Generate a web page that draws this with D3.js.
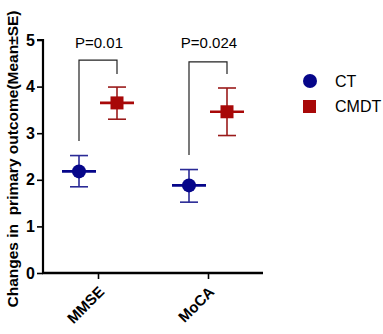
<!DOCTYPE html>
<html><head><meta charset="utf-8">
<script src="https://cdn.jsdelivr.net/npm/d3@7"></script>
<style>body{margin:0;background:#fff}svg{display:block}</style>
</head><body>
<script>
const categories = ["MMSE", "MoCA"];
const groups = ["CT", "CMDT"];
const ctMean = [2.18, 1.88];
const ctLow = [1.85, 1.52];
const ctHigh = [2.52, 2.22];
const cmdtMean = [3.65, 3.46];
const cmdtLow = [3.30, 2.95];
const cmdtHigh = [3.99, 3.97];
const pLabels = ["P=0.01", "P=0.024"];
const bracketLeft = [2.83, 2.53];
const bracketTop = [4.57, 4.53];
const bracketRight = [4.27, 4.27];
const yTicks = [0, 1, 2, 3, 4, 5];

const W = 383, H = 334;
const FONT = "'Liberation Sans', Arial, sans-serif";
const svg = d3.select("body").append("svg").attr("width", W).attr("height", H);

const y = d3.scaleLinear().domain([0, 5]).range([273, 40]);
const x = d3.scalePoint().domain(categories).range([43, 263]).padding(0.5);
const off = d3.scalePoint().domain(groups).range([-19, 19]);

const colors = {CT: "#06068a", CMDT: "#a80808"};
const barColors = {CT: "#2a2a96", CMDT: "#9a1a1a"};

// y axis
const yAxis = svg.append("g").attr("transform", "translate(43,0)")
  .call(d3.axisLeft(y).tickValues(yTicks).tickSize(6).tickPadding(2).tickFormat(d3.format("d")));
yAxis.select(".domain").attr("stroke", "#000").attr("stroke-width", 2.2).attr("d", "M-6,40H0V274");
yAxis.selectAll(".tick line").attr("stroke-width", 1.6);
yAxis.selectAll("text").attr("font-family", FONT).attr("font-weight", "bold").attr("font-size", 16).attr("fill", "#000");

// x axis
const xAxis = svg.append("g").attr("transform", "translate(0,273)")
  .call(d3.axisBottom(x).tickSize(6).tickSizeOuter(0));
xAxis.select(".domain").attr("stroke", "#000").attr("stroke-width", 2.6).attr("d", "M42,0H263");
xAxis.selectAll(".tick line").attr("stroke-width", 1.6);
xAxis.selectAll("text")
  .attr("font-family", FONT).attr("font-weight", "bold").attr("font-size", 15).attr("fill", "#000")
  .attr("text-anchor", "end").attr("dy", "0.35em").attr("y", 0)
  .attr("transform", "translate(3,16) rotate(-45)");

// y title
svg.append("text")
  .attr("transform", "translate(18,159) rotate(-90)")
  .attr("text-anchor", "middle")
  .attr("font-family", FONT).attr("font-weight", "bold").attr("font-size", 15.5)
  .style("white-space", "pre")
  .text("Changes in  primary outcome(Mean±SE)");

// data points
const series = [
  {g: "CT", mean: ctMean, lo: ctLow, hi: ctHigh},
  {g: "CMDT", mean: cmdtMean, lo: cmdtLow, hi: cmdtHigh}
];
series.forEach(s => {
  categories.forEach((c, i) => {
    const cx = x(c) + off(s.g);
    const g = svg.append("g");
    const bc = barColors[s.g];
    g.append("line").attr("x1", cx).attr("x2", cx).attr("y1", y(s.lo[i])).attr("y2", y(s.hi[i])).attr("stroke", bc).attr("stroke-width", 1.6);
    [s.lo[i], s.hi[i]].forEach(v => {
      g.append("line").attr("x1", cx - 9).attr("x2", cx + 9).attr("y1", y(v)).attr("y2", y(v)).attr("stroke", bc).attr("stroke-width", 1.6);
    });
    g.append("line").attr("x1", cx - 17).attr("x2", cx + 17).attr("y1", y(s.mean[i])).attr("y2", y(s.mean[i])).attr("stroke", colors[s.g]).attr("stroke-width", 2.6);
    if (s.g === "CT") {
      g.append("circle").attr("cx", cx).attr("cy", y(s.mean[i])).attr("r", 7).attr("fill", colors.CT);
    } else {
      g.append("rect").attr("x", cx - 6.5).attr("y", y(s.mean[i]) - 6.5).attr("width", 13).attr("height", 13).attr("fill", colors.CMDT);
    }
  });
});

// significance brackets
categories.forEach((c, i) => {
  const xl = x(c) + off("CT"), xr = x(c) + off("CMDT");
  svg.append("path")
    .attr("d", `M${xl},${y(bracketLeft[i])}V${y(bracketTop[i])}H${xr}V${y(bracketRight[i])}`)
    .attr("fill", "none").attr("stroke", "#222").attr("stroke-width", 1.2);
  svg.append("text")
    .attr("x", (xl + xr) / 2 + 1).attr("y", 48)
    .attr("text-anchor", "middle")
    .attr("font-family", FONT).attr("font-size", 15)
    .text(pLabels[i]);
});

// legend
const leg = svg.append("g");
leg.append("circle").attr("cx", 310).attr("cy", 81).attr("r", 7).attr("fill", colors.CT);
leg.append("rect").attr("x", 303).attr("y", 100).attr("width", 13).attr("height", 13).attr("fill", colors.CMDT);
leg.selectAll("text.l").data(groups).enter().append("text")
  .attr("x", 335).attr("y", (d, i) => 87 + i * 25)
  .attr("font-family", FONT).attr("font-size", 16)
  .text(d => d);
</script>
</body></html>
